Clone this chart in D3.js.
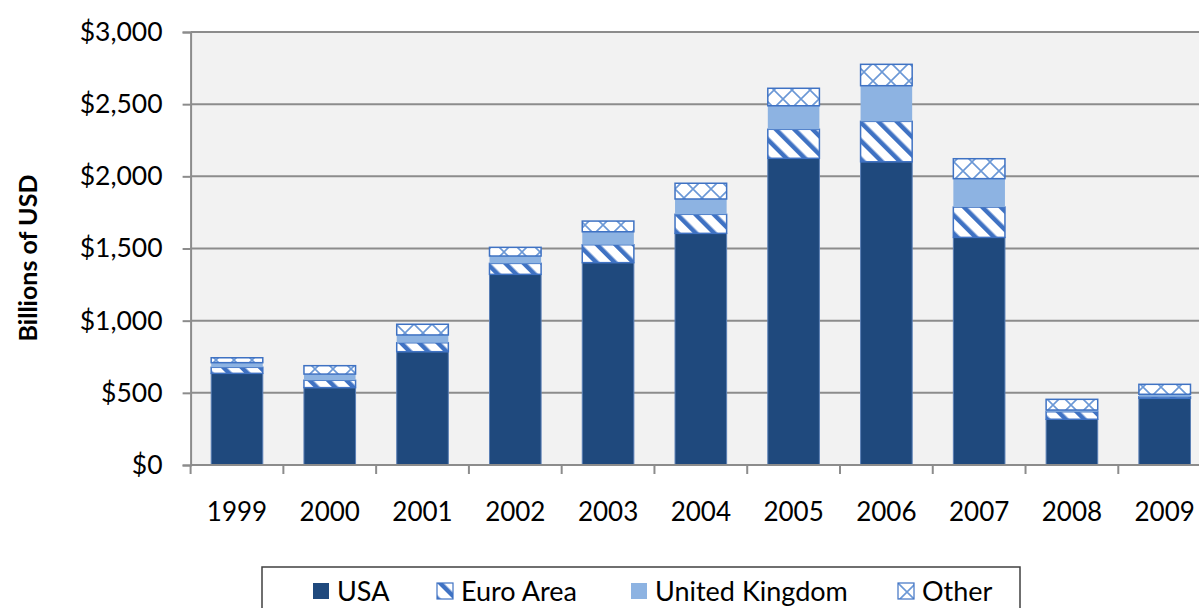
<!DOCTYPE html>
<html><head><meta charset="utf-8">
<script src="https://cdn.jsdelivr.net/npm/d3@7/dist/d3.min.js"></script>
<style>body{margin:0;background:#fff}svg{display:block}text{font-family:Lato,"Open Sans",sans-serif}</style>
</head><body><svg id="c" width="1199" height="608"></svg>
<script>
const years = ["1999","2000","2001","2002","2003","2004","2005","2006","2007","2008","2009"];
const usa   = [635, 536, 785, 1321, 1402, 1605, 2125, 2101, 1577, 317, 462];
const euro  = [42, 51, 62, 76, 124, 132, 201, 280, 210, 52, 11];
const uk    = [32, 43, 54, 51, 90, 106, 163, 247, 197, 12, 17];
const other = [34, 58, 74, 60, 74, 109, 121, 148, 138, 74, 69];
const seriesNames = ["USA","Euro Area","United Kingdom","Other"];
const yTicks = [0,500,1000,1500,2000,2500,3000];

const svg = d3.select("#c");
const defs = svg.append("defs");
// Euro: wide downward diagonal
const pE = defs.append("pattern").attr("id","pEuro").attr("patternUnits","userSpaceOnUse")
  .attr("width",13).attr("height",13).attr("patternTransform","rotate(-45)");
pE.append("rect").attr("width",13).attr("height",13).attr("fill","#fff");
pE.append("rect").attr("width",4.5).attr("height",13).attr("fill","#3f72c3");
// Other: diagonal cross
const pO = defs.append("pattern").attr("id","pOther").attr("patternUnits","userSpaceOnUse")
  .attr("width",18).attr("height",18);
pO.append("rect").attr("width",18).attr("height",18).attr("fill","#fff");
pO.append("path").attr("d","M0,0L18,18M18,0L0,18").attr("stroke","#6b98d6").attr("stroke-width",1.6).attr("fill","none");

const fills = ["#1f497d","url(#pEuro)","#8db3e2","url(#pOther)"];
const strokes = ["#5a7fb5","#3f72c3","none","#3f72c3"];

const pLeft = 190.6, step = 92.77, pTop = 32, pBottom = 465;
const x = d3.scaleBand().domain(years).range([pLeft, pLeft + step*years.length]).paddingInner(0.433).paddingOuter(0.2165);
const y = d3.scaleLinear().domain([0,3000]).range([pBottom, pTop]);

svg.append("rect").attr("x",pLeft).attr("y",pTop).attr("width",step*years.length).attr("height",pBottom-pTop).attr("fill","#f2f2f2");

// gridlines
svg.append("g").selectAll("line").data(yTicks.filter(d=>d>0)).join("line")
  .attr("x1",pLeft).attr("x2",1199).attr("y1",d=>y(d)).attr("y2",d=>y(d))
  .attr("stroke","#8c8c8c").attr("stroke-width",2);

// stacked data
const table = years.map((yr,i)=>({year:yr, "USA":usa[i], "Euro Area":euro[i], "United Kingdom":uk[i], "Other":other[i]}));
const stack = d3.stack().keys(seriesNames)(table);
stack.forEach((s,si)=>{
  svg.append("g").selectAll("rect").data(s).join("rect")
    .attr("x",d=>x(d.data.year)+0.5).attr("width",x.bandwidth()-1)
    .attr("y",d=>y(d[1])).attr("height",d=>y(d[0])-y(d[1]))
    .attr("fill",fills[si]).attr("stroke",strokes[si]).attr("stroke-width",si===0?1:1.5);
});

// y axis
const yAxis = d3.axisLeft(y).tickValues(yTicks).tickSize(8).tickPadding(20).tickFormat(d=>"$"+d3.format(",")(d));
const ga = svg.append("g").attr("transform",`translate(${pLeft},0)`).call(yAxis);
ga.select(".domain").attr("stroke","#8c8c8c").attr("stroke-width",2);
ga.selectAll(".tick line").attr("stroke","#8c8c8c").attr("stroke-width",2);
ga.selectAll("text").attr("font-size",26.5).attr("fill","#000").attr("font-family","Lato");

// x axis
svg.append("line").attr("x1",pLeft).attr("x2",1199).attr("y1",pBottom).attr("y2",pBottom).attr("stroke","#8c8c8c").attr("stroke-width",2);
svg.append("g").selectAll("line").data(d3.range(years.length+1)).join("line")
  .attr("x1",i=>pLeft+i*step).attr("x2",i=>pLeft+i*step).attr("y1",pBottom).attr("y2",pBottom+9)
  .attr("stroke","#8c8c8c").attr("stroke-width",2);
svg.append("g").selectAll("text").data(years).join("text")
  .attr("x",d=>x(d)+x.bandwidth()/2).attr("y",521).attr("text-anchor","middle")
  .attr("font-size",26).text(d=>d);

// y title
svg.append("text").attr("transform","translate(37,258) rotate(-90)").attr("text-anchor","middle")
  .attr("font-size",25).attr("font-weight","bold").text("Billions of USD");

// legend
svg.append("rect").attr("x",262).attr("y",567).attr("width",758).attr("height",60).attr("fill","#fff").attr("stroke","#404040").attr("stroke-width",1.5);
const legX = [313, 437, 631, 898];
const lg = svg.append("g").selectAll("g").data(seriesNames).join("g").attr("transform",(d,i)=>`translate(${legX[i]},583)`);
lg.append("rect").attr("width",16).attr("height",16).attr("fill",(d,i)=>fills[i]).attr("stroke",(d,i)=>i===0||i===2?"none":"#3f72c3").attr("stroke-width",1.2);
lg.append("text").attr("x",24).attr("y",18).attr("font-size",27).text(d=>d);
</script></body></html>
